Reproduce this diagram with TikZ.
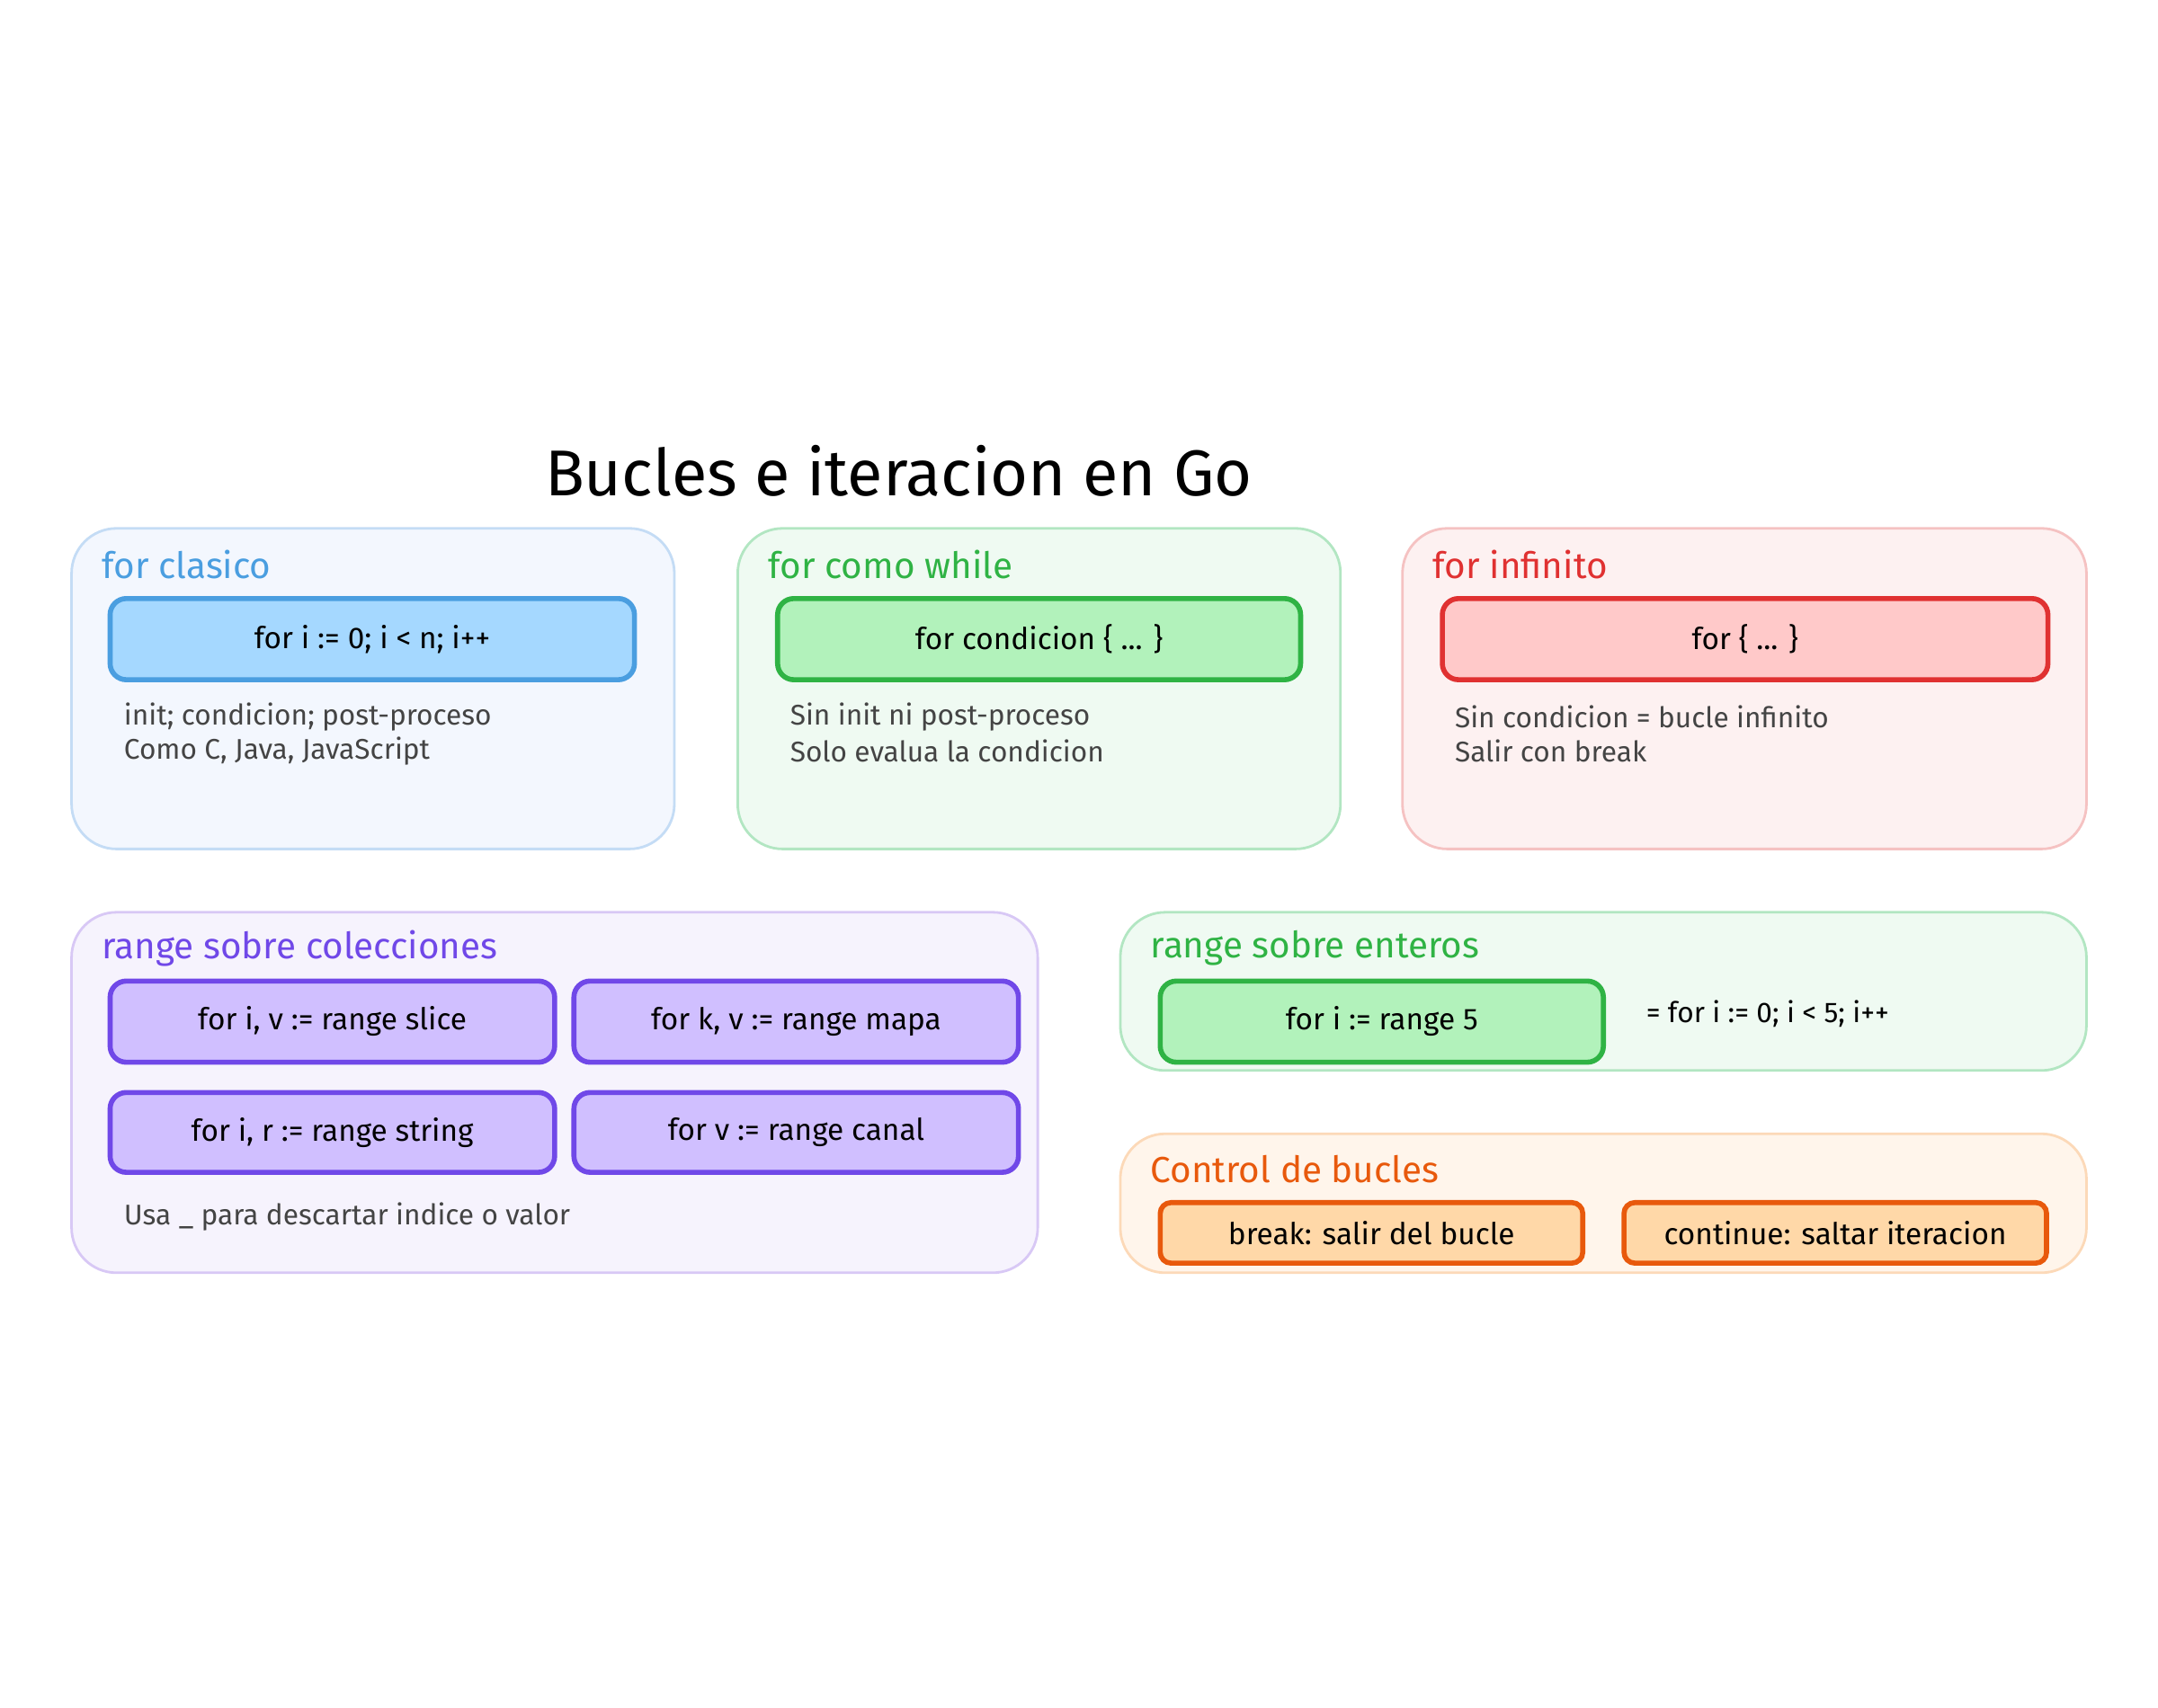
\documentclass[tikz,border=0pt]{standalone}
\usepackage{fontspec}
\setmainfont{Fira Sans}
\usetikzlibrary{positioning}
\definecolor{bluefill}{HTML}{F3F7FE}\definecolor{blueline}{HTML}{C4DCF5}
\definecolor{bluebox}{HTML}{A5D8FF}\definecolor{bluedark}{HTML}{4A9EE0}
\definecolor{greenfill}{HTML}{EFFAF2}\definecolor{greenline}{HTML}{B2E6C2}
\definecolor{greenbox}{HTML}{B2F2BB}\definecolor{greendark}{HTML}{2FB344}
\definecolor{redfill}{HTML}{FDF1F1}\definecolor{redline}{HTML}{F5C2C2}
\definecolor{redbox}{HTML}{FFC9C9}\definecolor{reddark}{HTML}{E03131}
\definecolor{purplefill}{HTML}{F6F3FD}\definecolor{purpleline}{HTML}{D8C8F5}
\definecolor{purplebox}{HTML}{D0BFFF}\definecolor{purpledark}{HTML}{7048E8}
\definecolor{orangefill}{HTML}{FFF5EB}\definecolor{orangeline}{HTML}{FCD9B8}
\definecolor{orangebox}{HTML}{FFD8A8}\definecolor{orangedark}{HTML}{E8590C}
\definecolor{notegray}{HTML}{444444}
\tikzset{
	panel/.style={rounded corners=0.5cm, line width=0.8pt},
	codebox/.style={rounded corners=0.18cm, line width=1.6pt, font=\fontsize{9.5}{11}\selectfont},
	paneltitle/.style={anchor=west, font=\fontsize{11.5}{14}\selectfont},
	note/.style={anchor=west, color=notegray, font=\fontsize{9}{11}\selectfont},
}
\begin{document}
\begin{tikzpicture}[x=0.0153cm,y=-0.0153cm]
		\useasboundingbox (0,0) rectangle (1568,1241);
		% title
			\node (title) at (653,342) {\fontsize{20.5}{24}\selectfont Bucles e iteracion en Go};
		% for clasico
			\draw [panel,fill=bluefill,draw=blueline] (52,384) rectangle (490,617);
			\node [paneltitle,color=bluedark] (clasicot) at (66,410) {for clasico};
			\draw [codebox,fill=bluebox,draw=bluedark] (80,435) rectangle node (clasico) {for i := 0; i < n; i++} (461,494);
			\node [note] (clasicoa) at (82,521) {init; condicion; post-proceso};
			\node [note] (clasicob) at (82,546) {Como C, Java, JavaScript};
		% for como while
			\draw [panel,fill=greenfill,draw=greenline] (536,384) rectangle (974,617);
			\node [paneltitle,color=greendark] (whilet) at (550,410) {for como while};
			\draw [codebox,fill=greenbox,draw=greendark] (565,435) rectangle node (while) {for condicion \{ ... \}} (945,494);
			\node [note] (whilea) at (566,521) {Sin init ni post-proceso};
			\node [note] (whileb) at (566,546) {Solo evalua la condicion};
		% for infinito
			\draw [panel,fill=redfill,draw=redline] (1019,384) rectangle (1516,617);
			\node [paneltitle,color=reddark] (infinitot) at (1033,410) {for infinito};
			\draw [codebox,fill=redbox,draw=reddark] (1048,435) rectangle node (infinito) {for \{ ... \}} (1488,494);
			\node [note] (infinitoa) at (1049,521) {Sin condicion = bucle infinito};
			\node [note] (infinitob) at (1049,546) {Salir con break};
		% range sobre colecciones
			\draw [panel,fill=purplefill,draw=purpleline] (52,663) rectangle (754,925);
			\node [paneltitle,color=purpledark] (colt) at (66,689) {range sobre colecciones};
			\draw [codebox,fill=purplebox,draw=purpledark] (80,713) rectangle node (slice) {for i, v := range slice} (403,772);
			\draw [codebox,fill=purplebox,draw=purpledark] (417,713) rectangle node (mapa) {for k, v := range mapa} (740,772);
			\draw [codebox,fill=purplebox,draw=purpledark] (80,794) rectangle node (string) {for i, r := range string} (403,852);
			\draw [codebox,fill=purplebox,draw=purpledark] (417,794) rectangle node (canal) {for v := range canal} (740,852);
			\node [note] (colnote) at (82,884) {Usa \_ para descartar indice o valor};
		% range sobre enteros
			\draw [panel,fill=greenfill,draw=greenline] (814,663) rectangle (1516,778);
			\node [paneltitle,color=greendark] (entt) at (828,689) {range sobre enteros};
			\draw [codebox,fill=greenbox,draw=greendark] (843,713) rectangle node (ent) {for i := range 5} (1165,772);
			\node [note,color=black] (entnote) at (1188,737) {= for i := 0; i < 5; i++};
		% control de bucles
			\draw [panel,fill=orangefill,draw=orangeline] (814,824) rectangle (1516,925);
			\node [paneltitle,color=orangedark] (ctlt) at (828,850) {Control de bucles};
			\draw [codebox,rounded corners=0.12cm,fill=orangebox,draw=orangedark] (843,874) rectangle node (brk) {break: salir del bucle} (1150,918);
			\draw [codebox,rounded corners=0.12cm,fill=orangebox,draw=orangedark] (1180,874) rectangle node (cont) {continue: saltar iteracion} (1487,918);
	\end{tikzpicture}
\end{document}
